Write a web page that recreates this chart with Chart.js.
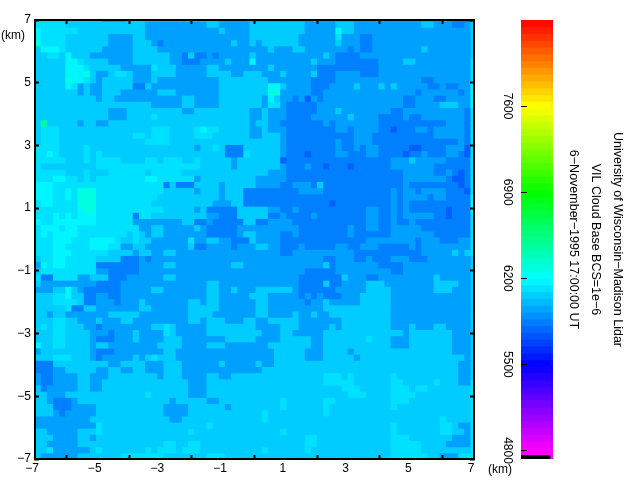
<!DOCTYPE html>
<html>
<head>
<meta charset="utf-8">
<script src="https://cdn.jsdelivr.net/npm/chart.js@4/dist/chart.umd.min.js"></script>
<style>
html,body{margin:0;padding:0;background:#fff;}
canvas{position:absolute;left:0;top:0;}
</style>
</head>
<body>
<canvas id="map" width="640" height="480"></canvas>
<canvas id="bar" width="640" height="480"></canvas>
<script>
// Cloud-base height classes (m).
const levelValues = [5764, 5851, 5940, 6060, 6115, 6172, 6293, 6480, 8290];
const tickKm = [-7, -5, -3, -1, 1, 3, 5, 7];
const colorbarTicks = [4800, 5500, 6200, 6900, 7600];
const colorbarLevels = [4792,4847,4902,4957,5013,5068,5123,5178,5234,5289,5344,5399,5455,5510,5565,5620,5676,5731,5786,5841,5897,5952,6007,6062,6118,6173,6228,6283,6339,6394,6449,6504,6560,6615,6670,6725,6781,6836,6891,6946,7002,7057,7112,7167,7223,7278,7333,7388,7444,7499,7554,7609,7665,7720,7775,7830,7886,7941,7996,8051,8107,8162,8217,8272];
const titleLines = ["University of Wisconsin\u2212Madison Lidar", "VIL Cloud Base BCS=1e\u22126", "6\u2212November\u22121995 17:00:00 UT"];
// Top sliver row of the image, clipped by the frame ("startColumn:level").
const topEdgeRow = "0:3 11:1 15:3 30:2 68:1 70:8 71:2";
// Right sliver column of the image, by row.
const rightEdgeColumn = "0:3 6:4 10:5 14:4 28:5 31:4 38:3 58:4";
// Rows from top to bottom; "startColumn:level" runs.
const rowRuns = [
"0:4 5:3 18:2 28:3 30:2 35:3 36:3 44:2 49:3 52:2 63:3 65:2 68:1 70:2",
"0:5 1:4 7:3 18:2 30:3 31:2 35:3 36:3 44:2 49:5 50:3 52:2",
"0:5 1:4 5:3 12:2 16:3 18:2 35:3 36:3 43:2 49:4 50:2 53:1 55:2",
"0:6 1:4 5:3 12:2 16:3 19:2 20:1 21:2 32:3 33:2 35:3 36:2 37:3 43:2 49:3 50:2 53:1 55:2",
"0:3 1:5 4:4 5:3 11:2 16:3 20:2 38:3 39:2 42:3 44:2 51:1 52:2 53:1 55:2 63:3 64:2",
"0:3 2:4 4:3 5:5 6:3 9:2 16:3 22:2 24:1 25:3 26:1 28:2 29:1 30:2 35:3 36:2 47:3 48:2 49:1 53:2",
"0:3 5:5 7:4 8:3 12:2 16:3 22:2 24:1 27:2 31:3 32:2 35:5 36:2 45:3 46:2 49:1 56:2 60:3 62:2",
"0:3 5:5 8:4 9:3 14:2 19:4 20:3 23:2 28:3 30:2 38:3 39:2 46:1 56:2",
"0:3 5:5 8:6 9:3 10:2 12:3 13:4 15:3 16:2 19:3 23:2 28:3 32:2 34:3 37:2 40:3 41:2 45:3 46:1 49:2 53:1 56:2",
"0:3 5:6 6:5 8:4 9:3 10:2 11:3 16:2 19:3 20:2 30:3 38:2 45:1 49:2 63:1 65:2",
"0:3 5:5 6:4 7:2 8:3 9:2 11:3 16:1 18:3 19:2 30:3 38:5 40:3 41:2 45:1 48:2 52:3 53:2 56:3 57:2 58:3 59:2 64:1 66:2 67:1 69:2",
"0:3 7:2 8:3 9:2 11:3 14:2 20:3 23:2 30:3 38:6 40:2 45:1 47:2 62:1 63:2 69:1 70:2",
"0:3 10:2 11:3 13:2 24:3 26:2 30:3 37:2 38:5 39:3 40:2 42:1 43:2 44:0 45:2 46:1 47:2 60:1 62:2 65:1 67:2",
"0:3 19:2 24:3 26:2 30:3 37:2 38:4 40:2 41:1 46:2 60:1 62:2 66:3 69:2",
"0:3 12:2 15:3 24:2 26:3 35:2 37:3 38:2 41:1 46:2 49:3 50:2 58:1 60:2 70:1",
"0:3 12:2 15:3 19:4 20:3 35:2 37:3 38:2 41:1 45:2 51:3 52:2 56:1 60:2 61:1 63:2 70:1",
"0:3 1:7 2:3 7:2 8:3 10:2 12:3 35:2 36:3 38:2 40:1 47:2 48:1 49:2 56:1 67:2 70:1",
"0:3 1:4 4:3 19:4 22:3 26:4 27:5 28:4 30:3 35:2 37:3 38:2 41:1 49:2 51:1 52:2 56:1 58:0 59:1 62:2 64:1 65:2 70:1",
"0:3 1:4 4:3 16:4 18:3 19:4 22:3 26:4 29:3 35:2 37:3 40:2 41:1 52:2 55:1 65:2 70:1",
"0:3 1:4 4:3 18:4 22:3 40:2 41:1 49:2 50:1 52:2 55:1 69:2 70:1",
"0:4 4:3 8:4 9:3 26:2 27:3 29:4 30:3 31:1 34:3 40:2 41:1 49:2 50:1 52:2 53:1 54:2 56:1 61:0 63:1 67:2 70:0",
"0:4 2:5 3:4 4:3 8:4 9:3 10:4 11:3 31:1 34:4 35:3 40:2 41:1 44:0 45:1 49:2 51:1 54:2 56:1 60:0 61:1 63:2 64:1 67:2 69:1 70:0",
"0:4 5:3 8:4 9:3 10:4 14:3 18:4 20:3 21:4 24:3 26:4 27:3 32:2 33:3 40:0 41:1 58:2 61:3 62:2 67:1",
"0:4 1:3 10:4 27:3 32:2 33:3 40:2 41:1 44:2 45:1 47:0 48:1 51:0 52:1 58:2 65:1",
"0:4 5:3 8:4 9:3 12:4 18:3 19:4 24:3 38:2 41:1 60:2 65:1 67:2 68:1 69:0 70:1",
"0:4 3:5 5:4 7:3 8:4 9:3 10:4 18:5 20:4 26:2 27:3 36:2 41:1 60:2 67:1 68:0 70:1",
"0:5 3:4 21:1 22:3 23:1 26:3 30:2 31:3 36:2 40:1 42:2 45:1 46:3 47:1 60:2 61:1 69:0 70:1",
"0:5 3:4 5:5 6:4 7:6 10:4 21:3 26:2 27:3 30:2 31:3 34:1 43:2 47:1 58:2 59:1 60:2 62:1 63:2 67:1 70:0",
"0:5 3:4 5:5 6:4 7:6 10:4 20:3 30:2 31:3 34:1 58:2 59:1 60:2 64:1 65:2 67:1",
"0:4 1:5 3:4 7:6 10:4 19:3 29:2 32:3 34:1 48:0 49:1 58:2 59:1 60:2 61:1",
"0:4 7:5 8:6 10:4 21:3 26:2 27:3 28:1 33:3 38:2 40:1 42:2 43:1 54:2 56:1 58:2 59:1 60:2 61:1 67:0 68:1",
"0:4 3:5 4:4 5:5 6:4 7:5 10:4 16:1 17:4 19:3 28:2 30:1 33:3 38:1 40:2 41:1 45:2 46:1 54:2 56:1 58:2 59:1 60:2 65:1 67:0 68:1",
"0:5 1:4 3:5 10:4 16:2 24:3 26:1 28:2 29:1 34:3 36:1 38:2 42:1 54:2 56:1 58:2 59:1 61:2 62:1",
"0:4 1:5 4:4 5:5 7:4 17:2 19:3 21:2 26:3 27:2 28:1 33:2 43:1 51:2 52:1 54:2 56:1 58:2 63:1",
"0:4 1:5 2:4 3:5 7:4 15:3 16:4 17:3 18:2 19:3 21:2 28:1 33:2 34:3 36:2 40:1 42:2 43:1 51:2 52:1 58:2 65:1",
"0:4 3:5 6:4 9:5 13:4 14:3 16:4 17:3 19:2 25:4 26:2 28:3 30:2 32:1 35:3 36:2 40:1 54:2 62:1 63:2 66:1 69:2",
"0:4 3:5 5:4 9:5 12:4 14:2 16:3 18:2 25:3 26:1 28:2 32:1 33:2 36:3 38:2 40:1 43:2 44:1 49:2 51:1 53:2 56:1 61:2 62:1 63:2",
"0:4 3:5 6:4 12:3 16:2 17:3 19:2 21:3 23:2 40:1 42:2 52:1 63:2 68:3 69:2 70:3",
"0:3 1:4 3:5 5:4 10:3 14:1 17:2 18:1 19:2 47:1 49:2 52:1 54:2 55:1 58:2 61:1 64:2",
"0:2 1:5 2:4 3:5 5:4 10:1 17:2 21:3 23:2 32:3 34:2 47:3 48:1 49:2 56:1 60:2",
"0:3 1:4 10:2 12:1 17:2 44:1 49:2 58:1 60:2",
"0:4 1:1 3:4 7:2 9:3 12:1 15:2 21:3 23:2 43:1 50:3 51:2 54:1 56:2 65:3 66:2",
"0:3 1:2 10:1 14:2 28:3 30:2 43:1 47:3 48:1 50:2 54:3 57:2 65:3 69:2",
"0:2 3:3 5:5 6:3 7:2 8:1 14:2 19:3 21:2 28:3 30:2 32:3 33:2 36:3 42:2 43:1 49:2 54:3 58:2 65:3 68:2",
"0:3 3:4 5:5 6:3 8:1 10:2 12:1 14:2 28:3 30:2 35:3 38:2 43:1 44:2 45:1 46:2 47:1 50:2 53:3 58:2",
"0:3 3:4 7:3 8:1 10:2 13:1 14:2 17:3 18:2 25:3 27:2 28:3 30:2 36:3 38:2 44:1 45:2 47:3 48:2 53:3 58:2",
"0:3 5:4 6:1 8:3 10:2 17:3 19:2 25:3 30:2 36:3 38:2 47:3 58:2",
"0:3 2:2 3:3 5:2 12:3 17:2 25:3 29:2 36:3 38:2 42:3 43:2 45:3 46:2 48:3 58:2",
"0:3 3:4 5:3 7:2 10:3 11:2 14:3 16:2 25:3 27:2 28:3 31:2 34:3 36:2 38:3 43:2 50:3 58:2",
"0:3 1:4 2:3 3:4 5:3 8:2 10:1 11:2 19:3 21:4 22:3 23:2 28:3 36:2 40:3 43:2 48:3 49:2 50:3 58:2 61:3 62:2 65:3 67:2",
"0:3 3:4 5:3 9:2 12:1 13:2 16:3 17:2 21:4 22:3 23:2 28:3 37:2 40:3 42:2 47:3 60:2 61:3 68:2",
"0:3 3:4 5:3 9:2 10:1 13:2 16:3 17:2 21:3 24:2 31:3 36:2 40:3 45:2 47:3 54:4 55:3 58:2 61:3 68:2",
"0:5 1:3 3:4 5:3 9:2 10:3 12:2 20:3 24:2 28:3 31:2 38:3 45:2 47:3 58:2 61:3 68:2",
"0:2 1:3 9:2 10:1 13:2 21:3 23:2 39:3 44:2 47:3 51:2 52:3 68:2",
"0:3 3:4 6:3 9:2 10:1 11:2 16:3 17:2 18:3 19:4 20:3 23:2 39:3 44:2 47:3 52:2 53:3 70:2",
"0:1 3:3 12:2 14:3 18:2 21:3 24:2 30:3 31:2 36:3 37:2 39:3 69:2",
"0:1 3:2 5:3 10:2 12:3 14:2 16:3 18:2 21:3 24:2 37:3 69:2",
"0:2 1:1 3:2 7:3 9:2 12:3 20:2 21:3 24:2 28:3 30:2 32:3 47:4 50:3 51:4 52:3 58:4 59:3 69:2",
"0:2 1:1 3:2 7:3 9:2 11:3 25:2 28:3 47:4 52:3 58:4 60:3 65:4 66:3 69:2",
"0:3 1:1 2:2 7:3 9:2 11:3 25:2 28:3 50:4 53:3 58:4 61:3 62:4 64:3",
"0:3 2:2 5:3 18:4 19:3 25:2 28:3 51:4 54:3 58:4 62:3",
"0:3 2:2 3:1 6:2 7:3 22:2 23:3 28:2 30:3 40:4 41:3 47:4 49:3 58:4 61:3",
"0:3 3:1 6:2 10:3 21:2 25:3 31:2 32:3 40:4 41:3 47:4 48:3 58:4 59:3",
"0:3 3:2 4:1 5:2 10:3 21:2 25:3 37:4 38:3 47:4 48:3",
"0:2 9:3 22:2 24:3 37:4 38:3 66:4 67:3",
"0:2 10:4 11:3 28:4 29:3 58:4 59:3 66:4 68:3 69:2",
"0:3 2:2 7:3 10:4 11:3 25:4 26:3 40:4 41:3 58:4 59:3 66:4 68:3 70:2",
"0:3 3:2 7:3 9:2 10:3 44:4 46:3 58:4 61:3 68:2",
"0:3 2:2 7:3 21:4 23:3 25:4 27:3 44:4 46:3 58:4 63:3 67:2",
"0:3 2:4 3:2 9:3 10:4 11:3 18:4 19:3 20:4 23:3 24:4 27:3 37:4 38:3 44:4 45:3 58:4 63:3",
"0:3 1:2 7:3 14:4 21:3 28:4 31:3 58:4 64:3 66:2 69:4"
];

function runsToLevels(text, count) {
  const out = new Array(count);
  text.split(" ").forEach(tok => {
    const [s, l] = tok.split(":").map(Number);
    for (let i = s; i < count; i++) out[i] = l;
  });
  return out;
}
function colorOf(v) {
  const stops = [[4800,255,0,255],[5500,0,0,255],[6200,0,255,255],[6900,0,255,0],[7600,255,255,0],[8300,255,0,0]];
  if (v <= stops[0][0]) return "rgb(255,0,255)";
  for (let i = 1; i < stops.length; i++) {
    if (v <= stops[i][0]) {
      const a = stops[i-1], b = stops[i], t = (v - a[0]) / (b[0] - a[0]);
      return `rgb(${Math.round(a[1]+(b[1]-a[1])*t)},${Math.round(a[2]+(b[2]-a[2])*t)},${Math.round(a[3]+(b[3]-a[3])*t)})`;
    }
  }
  return "rgb(255,0,0)";
}
const FONT = {family: "'Liberation Sans', Arial, sans-serif", size: 12};
const label = v => String(v).replace("-", "\u2212");
Chart.defaults.font.family = FONT.family;
Chart.defaults.font.size = FONT.size;
Chart.defaults.color = "#000";

const CELL_X = 0.1958, CELL_Y = 0.1967;   // km per cell
const edgeLevels = runsToLevels(rightEdgeColumn, rowRuns.length);
const allRows = [{y: rowRuns.length, text: topEdgeRow, edge: 2}].concat(
  rowRuns.map((t, r) => ({y: rowRuns.length - 1 - r, text: t, edge: edgeLevels[r]})));

const datasets = allRows.map(row => {
  const levels = runsToLevels(row.text, 71);
  levels.push(row.edge);
  const lo = -7 + row.y * CELL_Y;
  return {
    data: levels.map((l, c) => ({x: -7 + (c + 0.5) * CELL_X, y: [lo - 0.006, lo + CELL_Y + 0.006], v: levelValues[l]})),
    backgroundColor: levels.map(l => colorOf(levelValues[l])),
    borderWidth: 0,
    barThickness: 6.4,
    grouped: false
  };
});

const axisBase = pos => ({
  type: "linear", min: -7, max: 7, position: pos, offset: false,
  afterBuildTicks: s => { s.ticks = tickKm.map(v => ({value: v})); },
  border: {display: true, color: "#000", width: 2, z: 2},
  grid: {drawOnChartArea: false, drawTicks: true, tickLength: -4, tickWidth: 2, tickColor: "#000", z: 1}
});
const kmLabels = {
  id: "kmLabels",
  afterDraw(c) {
    const x = c.ctx;
    x.save();
    x.fillStyle = "#000";
    x.font = "12px " + FONT.family;
    x.textBaseline = "middle";
    x.fillText("(km)", 1, 36);
    x.fillText("(km)", 488, 470);
    x.restore();
  }
};
new Chart(document.getElementById("map"), {
  type: "bar",
  data: {datasets},
  plugins: [kmLabels],
  options: {
    responsive: false, animation: false, events: [],
    layout: {padding: {left: 0, top: 20, right: 166, bottom: 0}},
    plugins: {legend: {display: false}, tooltip: {enabled: false}, title: {display: false}},
    scales: {
      x: {...axisBase("bottom"), afterFit: s => { s.height = 21; },
          ticks: {callback: label, padding: 6, maxRotation: 0, autoSkip: false, labelOffset: -3}},
      y: {...axisBase("left"), afterFit: s => { s.width = 35; },
          ticks: {callback: label, padding: 8, autoSkip: false}},
      xTop: {...axisBase("top"), afterFit: s => { s.height = 0; }, ticks: {display: false}},
      yRight: {...axisBase("right"), afterFit: s => { s.width = 0; }, ticks: {display: false}}
    }
  }
});

const HALF_BAND = 27.9;
new Chart(document.getElementById("bar"), {
  type: "bar",
  data: {datasets: [
    {
      data: colorbarLevels.map(v => ({x: 14.5, y: [v - HALF_BAND, v + HALF_BAND]})),
      backgroundColor: colorbarLevels.map(colorOf),
      borderWidth: 0, barThickness: 29.5, grouped: false
    },
    {
      data: colorbarLevels.map(v => ({x: 30.5, y: [v - HALF_BAND, v + HALF_BAND]})),
      backgroundColor: colorbarLevels.map(v => colorOf(v + 28)),
      borderWidth: 0, barThickness: 3, grouped: false
    },
    {
      data: [{x: 14.5, y: [4731, 4764]}],
      backgroundColor: "#000", borderWidth: 0, barThickness: 29, grouped: false
    },
    {
      data: [{x: 30.5, y: [4731, 4764]}],
      backgroundColor: "rgb(255,0,255)", borderWidth: 0, barThickness: 3, grouped: false
    }
  ]},
  options: {
    responsive: false, animation: false, events: [],
    layout: {padding: {left: 0, top: 20, right: 12, bottom: 21}},
    plugins: {
      legend: {display: false}, tooltip: {enabled: false},
      title: {display: true, position: "right", text: titleLines,
              font: {size: 12.5, weight: "normal", lineHeight: 22 / 12.5},
              padding: {top: 0, bottom: 9}, color: "#000"}
    },
    scales: {
      x: {type: "linear", min: 0, max: 32, display: false, offset: false},
      y: {
        type: "linear", min: 4731, max: 8300, position: "left",
        afterFit: s => { s.width = 521; },
        afterBuildTicks: s => { s.ticks = colorbarTicks.map(v => ({value: v})); },
        ticks: {callback: v => String(v), minRotation: -90, maxRotation: -90, crossAlign: "center", padding: 6, autoSkip: false},
        border: {display: false},
        grid: {drawOnChartArea: false, drawTicks: true, tickLength: -6, tickWidth: 1, tickColor: "#000", z: 1}
      }
    }
  }
});
</script>
</body>
</html>
